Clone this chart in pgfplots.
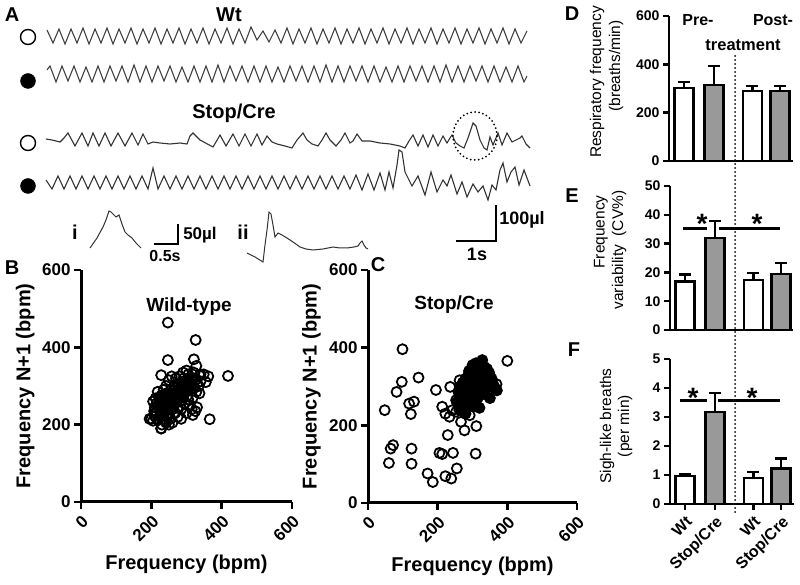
\documentclass[border=0pt]{standalone}
\usepackage{pgfplots}
\pgfplotsset{compat=1.18}
\usepackage{fontspec}
\setmainfont{Liberation Sans}
\newcommand{\fs}[1]{\fontsize{#1}{#1}\selectfont}
\pgfplotsset{
  prism/.style={scale only axis, anchor=south west, axis x line*=bottom, axis y line*=left,
    tick align=outside, /pgf/number format/assume math mode=true, clip=false},
  barp/.style={ybar, bar shift=0pt, bar width=19pt, draw=black, line width=2.5pt,
    error bars/y dir=plus, error bars/y explicit, error bars/error bar style={line width=2.5pt,black},
    error bars/error mark options={rotate=90, mark size=6pt, line width=2.5pt, black}},
}
\begin{document}
\begin{tikzpicture}
\useasboundingbox (0,0) rectangle (800pt,585pt);
% ---------- overlay (pixel coordinates) ----------
\begin{axis}[at={(0pt,0pt)}, anchor=south west, scale only axis, width=800pt, height=585pt,
  xmin=0, xmax=800, ymin=0, ymax=585, y dir=reverse, hide axis, clip=false]
% Wt open
\addplot[black!75, line width=1.1pt, mark=none] coordinates {(47,30)(53,43)(59,29)(65,44)(71,29)(77,43)(83,28)(89,44)(95,29)(101,43)(107,28)(113,44)(119,29)(125,43)(131,28)(137,44)(143,29)(149,43)(155,28)(161,44)(167,29)(173,43)(179,28)(185,44)(191,29)(197,43)(203,28)(209,44)(215,29)(221,43)(227,28)(233,44)(239,29)(245,43)(251,27)(257,40)(263,31)(269,42)(275,30)(281,43)(287,28)(293,44)(299,29)(305,43)(311,28)(317,44)(323,29)(329,43)(335,28)(341,44)(347,29)(353,43)(359,28)(365,44)(371,29)(377,43)(383,28)(389,44)(395,29)(401,43)(407,28)(413,44)(419,29)(425,43)(431,28)(437,44)(443,29)(449,43)(455,28)(461,44)(467,29)(473,43)(479,28)(485,44)(491,29)(497,43)(503,28)(509,44)(515,29)(521,43)(527,31)};
% Wt filled
\addplot[black!75, line width=1.1pt, mark=none] coordinates {(47,70)(50,66)(56,82)(62,66)(68,81)(74,66)(80,82)(86,67)(92,82)(98,66)(104,82)(110,66)(116,81)(122,66)(128,82)(134,65)(140,82)(146,66)(152,82)(158,66)(164,81)(170,66)(176,82)(182,67)(188,82)(194,66)(200,82)(206,66)(212,82)(218,65)(224,82)(230,66)(236,81)(242,66)(248,82)(254,66)(260,82)(266,66)(272,82)(278,67)(284,82)(290,66)(296,81)(302,66)(308,82)(314,66)(320,82)(326,65)(332,82)(338,66)(344,82)(350,66)(356,81)(362,66)(368,82)(374,66)(380,82)(386,67)(392,82)(398,66)(404,82)(410,66)(416,81)(422,66)(428,82)(434,66)(440,82)(446,65)(452,82)(458,66)(464,82)(470,66)(476,81)(482,66)(488,82)(494,66)(500,82)(506,67)(512,82)(518,66)(524,82)(527,76)};
% Stop/Cre open
\addplot[black!80, line width=1.1pt, mark=none] coordinates {(46,139)(52,140)(60,142)(64,138)(68,133)(75,146)(82,133)(88,146)(93,133)(99,146)(105,133)(111,146)(118,133)(125,146)(132,133)(138,145)(143,134)(148,144)(153,142)(160,143)(170,144)(180,143)(187,144)(190,136)(193,133)(200,140)(213,147)(216,142)(220,135)(226,146)(233,134)(239,146)(245,134)(251,146)(257,134)(262,145)(267,136)(272,142)(277,144)(285,146)(292,148)(297,140)(303,133)(307,140)(312,144)(318,146)(322,140)(326,133)(330,140)(336,146)(341,140)(345,133)(350,143)(353,141)(357,134)(362,141)(370,141)(380,143)(390,144)(400,146)(405,148)(409,141)(413,135)(418,146)(423,135)(428,147)(433,135)(438,146)(443,136)(447,143)(450,138)(452,135)(456,143)(460,146)(464,148)(468,138)(473,123)(476,126)(480,140)(484,148)(487,150)(490,137)(493,145)(498,133)(502,145)(507,133)(512,142)(516,140)(520,138)(522,136)(526,144)(530,148)};
% Stop/Cre filled
\addplot[black!80, line width=1.1pt, mark=none] coordinates {(46,180)(52,189)(58,176)(64,189)(70,176)(76,189)(82,176)(88,189)(94,176)(100,189)(106,176)(112,189)(118,176)(124,189)(130,176)(136,189)(142,176)(148,189)(153,168)(158,189)(164,176)(170,189)(176,176)(182,189)(188,176)(194,189)(200,176)(206,189)(212,176)(218,189)(224,176)(230,189)(236,176)(242,189)(248,176)(254,189)(260,176)(266,189)(272,176)(278,189)(284,176)(290,189)(296,176)(302,189)(308,176)(314,189)(320,176)(326,189)(332,176)(338,189)(344,176)(350,189)(356,175)(362,190)(368,174)(374,190)(380,173)(385,190)(389,172)(393,188)(397,165)(399,150)(402,152)(405,172)(408,178)(412,186)(418,176)(425,195)(431,172)(437,192)(443,180)(447,186)(451,175)(457,194)(462,182)(467,197)(473,184)(478,192)(483,186)(488,200)(492,185)(496,190)(500,170)(503,163)(507,182)(511,172)(515,167)(519,185)(524,170)(530,186)};
% insets
\addplot[black!80, line width=1pt, mark=none] coordinates {(90,248)(97,238)(103,227)(106,220)(109,211)(111,212)(113,214)(116,217)(119,215)(122,224)(125,232)(128,235)(132,238)(136,243)(141,248)};
\addplot[black!80, line width=1pt, mark=none] coordinates {(247,253)(255,257)(263,262)(265,245)(267,230)(269,212)(271,214)(273,225)(275,237)(278,233)(282,235)(287,238)(293,242)(300,247)(306,249)(313,250)(323,249)(333,247)(340,248)(347,248)(354,247)(358,246)(360,243)(362,241)(364,245)(366,248)(368,249)};
% condition markers
\addplot[only marks, mark=o, mark size=7.5pt, mark options={line width=1.4pt, black}] coordinates {(28,37)(28,143)};
\addplot[only marks, mark=*, mark size=7.5pt, mark options={black, fill=black}] coordinates {(28,81)(28,186)};
% scale bars
\draw[line width=2pt] (axis cs:154,244) -- (axis cs:178,244) -- (axis cs:178,224);
\draw[line width=2pt] (axis cs:456,241) -- (axis cs:496,241) -- (axis cs:496,205);
% dotted ellipse and divider
\draw[line width=2pt, dash pattern=on 0pt off 4pt, line cap=round] (axis cs:475,136) ellipse [x radius=22pt, y radius=24pt];
\draw[line width=2pt, dash pattern=on 0pt off 4pt, line cap=round] (axis cs:735,56) -- (axis cs:735,512);
% texts
\node[font=\bfseries\fs{20}] at (axis cs:12,15) {A};
\node[font=\bfseries\fs{20}] at (axis cs:229,15) {Wt};
\node[font=\bfseries\fs{20}] at (axis cs:234,113) {Stop/Cre};
\node[font=\bfseries\fs{20}] at (axis cs:75,232) {i};
\node[font=\bfseries\fs{20}] at (axis cs:243,232) {ii};
\node[font=\bfseries\fs{17}] at (axis cs:200,235) {50µl};
\node[font=\bfseries\fs{16}] at (axis cs:165,256) {0.5s};
\node[font=\bfseries\fs{18}] at (axis cs:522,220) {100µl};
\node[font=\bfseries\fs{18}] at (axis cs:477,254) {1s};
\node[font=\bfseries\fs{20}] at (axis cs:12,268) {B};
\node[font=\bfseries\fs{20}] at (axis cs:378,265) {C};
\node[font=\bfseries\fs{19}] at (axis cs:189,307) {Wild-type};
\node[font=\bfseries\fs{19}] at (axis cs:454,305) {Stop/Cre};
\node[font=\bfseries\fs{20}] at (axis cs:572,14) {D};
\node[font=\bfseries\fs{20}] at (axis cs:572,196) {E};
\node[font=\bfseries\fs{20}] at (axis cs:574,350) {F};
\node[font=\bfseries\fs{16}] at (axis cs:698,20) {Pre-};
\node[font=\bfseries\fs{16}] at (axis cs:773,20) {Post-};
\node[font=\bfseries\fs{16.5}] at (axis cs:743,45) {treatment};
\node[font=\fs{15.5}, rotate=90] at (axis cs:597,82) {Respiratory frequency};
\node[font=\fs{15.5}, rotate=90] at (axis cs:616,66) {(breaths/min)};
\node[font=\fs{15.5}, rotate=90] at (axis cs:601,232) {Frequency};
\node[font=\fs{15.5}, rotate=90] at (axis cs:619,250) {variability\ \ (CV\%)};
\node[font=\fs{15.5}, rotate=90] at (axis cs:607,426) {Sigh-like breaths};
\node[font=\fs{15.5}, rotate=90] at (axis cs:625,426) {(per min)};
% significance
\draw[line width=3pt] (axis cs:683,229) -- (axis cs:707,229);
\draw[line width=3pt] (axis cs:719,229) -- (axis cs:780,229);
\draw[line width=3pt] (axis cs:680,400) -- (axis cs:707,400);
\draw[line width=3pt] (axis cs:718,400) -- (axis cs:780,400);
\node[font=\bfseries\fs{28}, anchor=base] at (axis cs:702,234) {*};
\node[font=\bfseries\fs{28}, anchor=base] at (axis cs:757,234) {*};
\node[font=\bfseries\fs{28}, anchor=base] at (axis cs:693,407) {*};
\node[font=\bfseries\fs{28}, anchor=base] at (axis cs:752,407) {*};
\end{axis}
% ---------- B ----------
\begin{axis}[prism, at={(81pt,83pt)}, width=211pt, height=232pt,
  xmin=0, xmax=600, ymin=0, ymax=600, xtick={0,200,400,600}, ytick={0,200,400,600},
  axis line style={line width=3pt}, major tick length=7pt, tick style={line width=2.5pt, black},
  ticklabel style={font=\bfseries\fs{17}}, xticklabel style={rotate=45, anchor=north east},
  xlabel={Frequency (bpm)}, ylabel={Frequency N+1 (bpm)}, label style={font=\bfseries\fs{20}},
  xlabel style={at={(axis description cs:0.5,-0.27)}, anchor=center},
  ylabel style={at={(axis description cs:-0.265,0.5)}, anchor=center}]
\addplot[only marks, mark=o, mark size=5pt, mark options={line width=1.8pt, black}] coordinates {
(200,215)(205,210)(210,222)(215,230)(220,212)(225,240)(228,190)(230,225)(232,250)(235,215)(238,260)(240,235)(242,205)(245,270)(248,245)(250,225)(252,255)(255,215)(258,265)(260,240)(262,280)(265,250)(268,230)(270,295)(272,265)(275,245)(278,305)(280,280)(282,260)(285,310)(288,290)(290,270)(292,320)(295,300)(298,285)(300,315)(302,275)(305,330)(308,300)(310,290)(312,320)(315,305)(318,270)(320,335)(322,295)(325,315)(328,285)(330,245)(335,300)(340,330)(215,255)(222,270)(210,245)(205,260)(218,285)(228,275)(235,290)(242,300)(250,315)(258,325)(265,300)(270,320)(280,325)(290,335)(300,340)(310,250)(318,225)(325,235)(300,230)(285,215)(275,220)(260,205)(250,200)(240,210)(230,200)(212,268)(208,235)(225,255)(245,228)(255,290)(265,275)(275,285)(285,240)(295,255)(305,265)(315,240)
(210,230)(220,250)(230,260)(240,250)(250,260)(260,270)(270,280)(280,290)(290,300)(300,300)(310,310)(320,320)(235,240)(245,255)(255,245)(265,265)(275,270)(285,285)(295,290)(305,295)(315,300)(225,225)(215,215)(250,240)(260,255)(270,260)(280,270)(290,280)(300,290)(310,300)(285,300)(295,310)(305,320)(275,300)(265,290)(255,280)(245,265)(235,270)(225,265)(240,280)
(247,464)(326,419)(247,367)(321,369)(328,352)(418,326)(366,214)(228,328)(337,327)(349,330)(362,325)(340,312)(337,281)(355,310)(195,215)(228,190)};
\end{axis}
% ---------- C ----------
\begin{axis}[prism, at={(368pt,82pt)}, width=209pt, height=233pt,
  xmin=0, xmax=600, ymin=0, ymax=600, xtick={0,200,400,600}, ytick={0,200,400,600},
  axis line style={line width=3pt}, major tick length=7pt, tick style={line width=2.5pt, black},
  ticklabel style={font=\bfseries\fs{17}}, xticklabel style={rotate=45, anchor=north east},
  xlabel={Frequency (bpm)}, ylabel={Frequency N+1 (bpm)}, label style={font=\bfseries\fs{20}},
  xlabel style={at={(axis description cs:0.5,-0.27)}, anchor=center},
  ylabel style={at={(axis description cs:-0.27,0.5)}, anchor=center}]
\addplot[only marks, mark=o, mark size=5pt, mark options={line width=1.8pt, black}] coordinates {
(99,396)(97,312)(145,323)(82,286)(48,239)(118,256)(132,261)(123,229)(65,140)(72,149)(60,103)(125,140)(125,101)(171,76)(186,54)(195,291)(205,129)(213,126)(222,69)(239,63)(244,129)(255,89)(229,175)(213,248)(222,230)(234,222)(242,239)(236,299)(253,235)(267,209)(277,187)(292,226)(311,198)(309,127)(290,256)(263,316)(400,366)(369,306)(253,265)(272,248)(290,273)};
\addplot[only marks, mark=*, mark size=5pt, mark options={line width=1.8pt, black, fill=black}] coordinates {
(255,260)(260,285)(265,300)(268,270)(272,310)(275,290)(278,255)(280,320)(282,300)(285,280)(288,330)(290,305)(292,290)(295,315)(298,340)(300,300)(302,325)(305,285)(308,345)(310,315)(312,300)(315,335)(318,355)(320,320)(322,290)(325,340)(328,368)(330,310)(332,330)(335,350)(338,300)(340,325)(342,345)(345,315)(348,335)(350,300)(355,320)(360,305)(365,295)(370,290)(262,240)(270,250)(285,260)(295,265)(305,250)(315,270)(300,355)(290,340)(310,360)(325,300)(335,280)(280,230)(320,245)(350,270)};
\end{axis}
% ---------- D ----------
\begin{axis}[prism, at={(669pt,424pt)}, width=124pt, height=145pt,
  xmin=0.5, xmax=4.63, ymin=0, ymax=600, ytick={0,200,400,600}, xtick=\empty,
  axis line style={line width=2.5pt}, major tick length=6pt, tick style={line width=2.5pt, black},
  yticklabel style={font=\bfseries\fs{14}}]
\addplot[fill=white, barp] coordinates {(1,303) +- (0,23) (3.28,290) +- (0,20)};
\addplot[fill=black!40, barp] coordinates {(2,314) +- (0,79) (4.2,290) +- (0,20)};
\end{axis}
% ---------- E ----------
\begin{axis}[prism, at={(670pt,255pt)}, width=123pt, height=144pt,
  xmin=0.5, xmax=4.6, ymin=0, ymax=50, ytick={0,10,20,30,40,50}, xtick=\empty,
  axis line style={line width=2.5pt}, major tick length=6pt, tick style={line width=2.5pt, black},
  yticklabel style={font=\bfseries\fs{14}}]
\addplot[fill=white, barp] coordinates {(1,16.8) +- (0,2.4) (3.28,17.3) +- (0,2.5)};
\addplot[fill=black!40, barp] coordinates {(2,32.0) +- (0,5.8) (4.2,19.5) +- (0,3.8)};
\end{axis}
% ---------- F ----------
\begin{axis}[prism, at={(670pt,81pt)}, width=124pt, height=145pt,
  xmin=0.5, xmax=4.63, ymin=0, ymax=5, ytick={0,1,2,3,4,5}, xtick={1,2,3.28,4.2},
  xticklabels={Wt,Stop/Cre,Wt,Stop/Cre},
  axis line style={line width=2.5pt}, major tick length=6pt, tick style={line width=2.5pt, black},
  yticklabel style={font=\bfseries\fs{14}},
  xticklabel style={font=\bfseries\fs{16}, rotate=45, anchor=north east}]
\addplot[fill=white, barp] coordinates {(1,0.97) +- (0,0.07) (3.28,0.9) +- (0,0.2)};
\addplot[fill=black!40, barp] coordinates {(2,3.17) +- (0,0.66) (4.2,1.22) +- (0,0.35)};
\end{axis}
\end{tikzpicture}
\end{document}
